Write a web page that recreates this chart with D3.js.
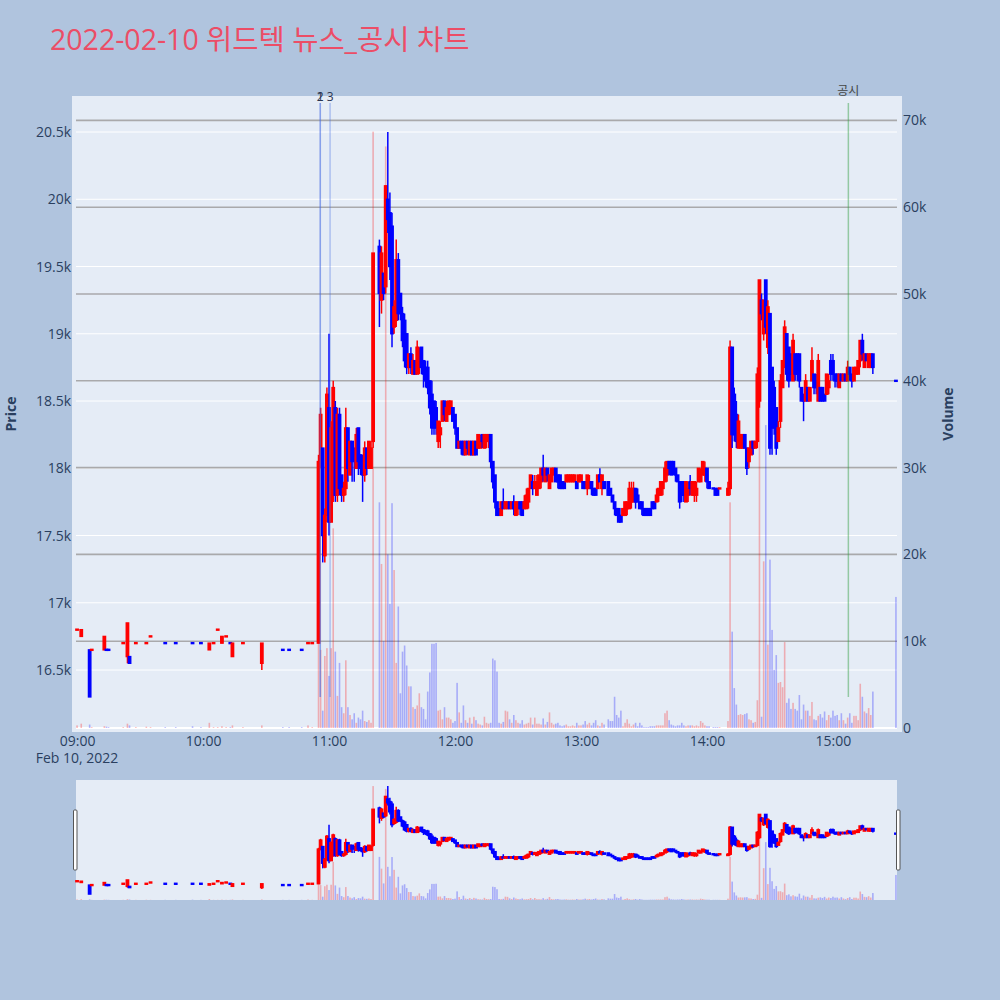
<!DOCTYPE html>
<html>
<head>
<meta charset="utf-8">
<script src="https://cdn.jsdelivr.net/npm/d3@7"></script>
<style>
  body { margin: 0; background: #b0c4de; }
  svg text { font-family: "Open Sans", "Noto Sans CJK KR", verdana, arial, sans-serif; }
</style>
</head>
<body>
<svg id="chart" width="1000" height="1000"></svg>
<script>
// 1분봉 데이터 (2022-02-10)
const times = [
  "09:00","09:02","09:06","09:07","09:13","09:14","09:15","09:22","09:24","09:25",
  "09:28","09:33","09:35","09:42","09:47","09:55","09:59","10:03","10:05","10:07",
  "10:09","10:11","10:13","10:14","10:19","10:28","10:38","10:41","10:47","10:50",
  "10:52","10:55","10:56","10:57","10:58","10:59","11:00","11:01","11:02","11:03",
  "11:04","11:05","11:06","11:07","11:08","11:09","11:10","11:11","11:12","11:13",
  "11:14","11:15","11:16","11:17","11:18","11:19","11:20","11:21","11:24","11:25",
  "11:26","11:27","11:28","11:29","11:30","11:31","11:32","11:33","11:34","11:35",
  "11:36","11:37","11:38","11:39","11:40","11:41","11:42","11:43","11:44","11:45",
  "11:46","11:47","11:48","11:49","11:50","11:51","11:52","11:53","11:54","11:55",
  "11:56","11:57","11:58","11:59","12:00","12:01","12:02","12:03","12:04","12:05",
  "12:06","12:07","12:08","12:09","12:10","12:11","12:12","12:13","12:14","12:15",
  "12:16","12:17","12:18","12:19","12:20","12:21","12:22","12:23","12:24","12:25",
  "12:26","12:27","12:28","12:29","12:30","12:31","12:32","12:33","12:34","12:35",
  "12:36","12:37","12:38","12:39","12:40","12:41","12:42","12:43","12:44","12:45",
  "12:46","12:47","12:48","12:49","12:50","12:51","12:52","12:53","12:54","12:55",
  "12:56","12:57","12:58","12:59","13:00","13:01","13:02","13:03","13:04","13:05",
  "13:06","13:07","13:08","13:09","13:10","13:11","13:13","13:14","13:15","13:16",
  "13:17","13:18","13:19","13:20","13:21","13:22","13:23","13:24","13:25","13:26",
  "13:27","13:28","13:29","13:30","13:31","13:32","13:33","13:34","13:35","13:36",
  "13:37","13:38","13:39","13:40","13:41","13:42","13:43","13:44","13:45","13:46",
  "13:47","13:48","13:49","13:50","13:51","13:52","13:53","13:54","13:55","13:56",
  "13:57","13:58","13:59","14:00","14:01","14:03","14:04","14:05","14:06","14:10",
  "14:11","14:12","14:13","14:14","14:15","14:16","14:17","14:18","14:19","14:20",
  "14:21","14:22","14:23","14:24","14:25","14:26","14:27","14:28","14:29","14:30",
  "14:31","14:32","14:33","14:34","14:35","14:36","14:37","14:38","14:39","14:40",
  "14:41","14:42","14:43","14:44","14:45","14:46","14:47","14:48","14:49","14:50",
  "14:51","14:52","14:53","14:54","14:55","14:56","14:57","14:58","14:59","15:00",
  "15:01","15:02","15:03","15:04","15:05","15:06","15:07","15:08","15:09","15:10",
  "15:11","15:12","15:13","15:14","15:15","15:16","15:17","15:18","15:19","15:30"
];
const opens = [
  16800,16750,16650,16650,16650,16650,16650,16700,16600,16600,
  16700,16700,16750,16700,16700,16700,16700,16650,16700,16800,
  16700,16750,16700,16600,16700,16550,16650,16650,16650,16700,
  16700,16700,18050,18150,17350,17650,18450,17600,17800,18450,
  17800,18400,17950,17800,17850,18300,17950,18200,18150,18000,
  18300,18100,18050,17950,18150,18000,18000,18200,19650,19250,
  19450,19350,20000,19900,19800,19050,19100,19550,19300,19150,
  19100,19000,18750,18850,18700,18800,18700,18750,18900,18800,
  18750,18750,18650,18550,18500,18450,18200,18250,18350,18500,
  18350,18400,18450,18450,18400,18300,18150,18200,18200,18100,
  18200,18100,18200,18100,18200,18150,18150,18250,18150,18200,
  18200,18250,18050,17950,17750,17700,17650,17750,17700,17700,
  17750,17700,17750,17650,17700,17750,17750,17700,17700,17750,
  17850,17900,17850,17800,17850,17900,18000,17900,18000,17850,
  17900,17950,18000,17950,17950,17900,17900,17900,17900,17900,
  17900,17900,17900,17900,17900,17900,17900,17850,17850,17900,
  17850,17850,17850,17950,17850,17900,17900,17850,17800,17750,
  17700,17700,17650,17650,17650,17700,17700,17750,17750,17850,
  17800,17750,17750,17700,17700,17700,17700,17750,17750,17750,
  17800,17800,17850,17900,17950,18050,18050,18050,18000,17950,
  17900,17900,17900,17750,17800,17900,17800,17800,17800,17900,
  17900,17950,17950,18000,17900,17850,17850,17850,17850,17800,
  17850,18900,18550,18400,18150,18150,18150,18250,18150,18050,
  18100,18200,18150,18200,18500,19250,19000,19400,18900,19150,
  18750,18600,18450,18200,18350,18600,18750,19000,18900,18850,
  18650,18850,18850,18850,18600,18550,18500,18600,18500,18650,
  18700,18650,18500,18600,18600,18550,18550,18600,18800,18800,
  18700,18700,18600,18700,18650,18700,18650,18750,18700,18650,
  18700,18700,18800,18950,18750,18850,18750,18750,18850,18650
];
const highs = [
  16800,16800,16650,16650,16750,16650,16650,16700,16850,16600,
  16700,16700,16750,16700,16700,16700,16700,16700,16700,16800,
  16750,16750,16700,16700,16700,16700,16650,16650,16650,16700,
  16700,18100,18450,18150,17700,18600,19000,18350,18650,18500,
  18450,18450,17950,17900,18450,18300,18200,18200,18150,18300,
  18300,18100,18100,18200,18150,18200,18200,19600,19700,19650,
  19450,20100,20500,20050,19900,19250,19700,19600,19300,19200,
  19150,19000,18850,18900,18850,18800,18950,18900,18900,18800,
  18800,18800,18650,18650,18500,18500,18350,18350,18500,18500,
  18500,18500,18500,18450,18400,18300,18200,18200,18200,18200,
  18200,18200,18200,18200,18200,18250,18250,18250,18250,18250,
  18250,18250,18050,17950,17750,17700,17750,17850,17750,17750,
  17750,17750,17800,17750,17750,17750,17750,17800,17850,17850,
  17950,17950,17950,17950,17950,18000,18100,18000,18000,17950,
  18000,18000,18000,17950,17950,17900,17900,17950,17950,17950,
  17950,17950,17900,17950,17950,17900,17900,17950,17950,17900,
  17850,17850,17950,18000,17950,17900,17900,17850,17800,17750,
  17700,17700,17650,17700,17750,17750,17900,17900,17900,17850,
  17850,17750,17750,17700,17700,17700,17700,17750,17750,17850,
  17850,17900,17900,18050,18050,18050,18050,18050,18000,17950,
  17900,17900,17900,17900,17900,17950,17900,17900,17900,18000,
  18000,18050,18050,18000,17900,17850,17850,17850,17850,17900,
  18950,18900,18600,18500,18400,18250,18250,18250,18150,18150,
  18200,18200,18200,18750,19400,19300,19250,19400,19250,19150,
  18750,18650,18450,18350,18700,18800,19100,19000,18900,18850,
  19000,18850,18850,18850,18600,18550,18700,18600,18600,18900,
  18700,18700,18850,18600,18600,18550,18700,18700,18850,18850,
  18700,18700,18700,18700,18700,18700,18800,18750,18700,18750,
  18750,18800,18950,19000,18850,18850,18850,18850,18850,18650
];
const lows = [
  16800,16750,16300,16650,16650,16650,16650,16700,16550,16550,
  16700,16700,16750,16700,16700,16700,16700,16650,16700,16800,
  16700,16750,16700,16600,16700,16500,16650,16650,16650,16700,
  16700,16700,18000,17300,17300,17600,17500,17600,17750,17750,
  17750,17800,17750,17750,17800,17900,17950,17900,17900,18000,
  17950,17950,17750,17900,17950,18000,18000,18150,19050,19150,
  19250,19300,19750,19400,18900,19000,19050,19100,19100,18900,
  18750,18700,18700,18700,18700,18700,18700,18700,18700,18600,
  18600,18550,18400,18250,18250,18250,18150,18150,18350,18350,
  18350,18400,18400,18350,18250,18150,18150,18100,18100,18100,
  18100,18100,18100,18100,18100,18150,18150,18150,18150,18150,
  18150,18000,17850,17700,17650,17650,17650,17700,17700,17700,
  17700,17700,17650,17650,17650,17650,17650,17700,17700,17700,
  17850,17800,17850,17800,17850,17850,17900,17900,17900,17850,
  17900,17950,17900,17850,17850,17850,17850,17900,17900,17900,
  17900,17900,17850,17900,17900,17850,17850,17800,17850,17800,
  17800,17800,17850,17900,17800,17850,17800,17800,17750,17650,
  17650,17600,17600,17650,17650,17650,17700,17700,17750,17700,
  17750,17700,17650,17650,17650,17650,17650,17700,17700,17750,
  17750,17800,17800,17900,17900,17950,17950,17950,17900,17900,
  17700,17750,17750,17750,17750,17800,17800,17750,17750,17900,
  17900,17950,17900,17850,17850,17850,17800,17800,17850,17800,
  17800,18150,18200,18150,18150,18150,18150,18150,17950,18000,
  18100,18100,18150,18150,18450,19100,18950,19000,18850,18100,
  18100,18250,18100,18200,18300,18600,18750,18650,18600,18650,
  18650,18650,18650,18600,18500,18350,18500,18500,18500,18650,
  18550,18550,18500,18500,18500,18500,18550,18550,18650,18650,
  18600,18600,18600,18650,18650,18650,18650,18650,18600,18650,
  18700,18700,18750,18800,18750,18800,18750,18750,18700,18650
];
const closes = [
  16800,16800,16300,16650,16750,16650,16650,16700,16850,16550,
  16700,16700,16750,16700,16700,16700,16700,16700,16700,16800,
  16750,16750,16700,16700,16700,16700,16650,16650,16650,16700,
  16700,18050,18400,17500,17650,18550,17600,18300,18600,17800,
  18400,17850,17800,17850,18300,18000,18200,18050,18100,18250,
  18050,18000,17950,18150,18000,18200,18150,19600,19300,19600,
  19300,20100,19850,19500,19000,19200,19550,19150,19150,18950,
  18800,18750,18850,18750,18800,18700,18900,18850,18750,18700,
  18650,18600,18450,18300,18300,18300,18350,18300,18500,18400,
  18450,18500,18500,18350,18300,18150,18200,18150,18100,18200,
  18150,18200,18100,18200,18100,18250,18200,18200,18250,18250,
  18250,18050,17900,17750,17650,17650,17750,17700,17750,17750,
  17700,17750,17700,17750,17750,17700,17650,17750,17800,17850,
  17950,17850,17900,17900,17950,18000,17950,18000,17950,17950,
  18000,18000,17900,17900,17850,17850,17850,17950,17950,17950,
  17950,17950,17850,17950,17950,17850,17850,17950,17900,17850,
  17800,17800,17950,17900,17950,17850,17800,17800,17750,17700,
  17650,17600,17600,17700,17750,17750,17850,17850,17850,17750,
  17750,17700,17700,17650,17650,17650,17650,17700,17700,17800,
  17850,17900,17900,18000,18050,18000,17950,18000,17950,17900,
  17750,17800,17800,17900,17850,17850,17900,17900,17850,18000,
  17950,18050,18000,17900,17850,17850,17800,17800,17850,17850,
  18900,18250,18250,18200,18350,18250,18250,18150,18000,18150,
  18200,18150,18200,18700,19400,19150,19250,19050,19200,18150,
  18300,18300,18150,18300,18650,18800,19050,18700,18650,18700,
  18950,18700,18700,18650,18500,18500,18650,18500,18600,18800,
  18600,18600,18800,18500,18500,18500,18700,18650,18700,18700,
  18650,18650,18700,18650,18700,18650,18750,18700,18650,18750,
  18750,18800,18950,18850,18850,18800,18850,18850,18750,18650
];
const volumes = [
  300,500,400,100,200,150,100,100,500,300,
  100,150,100,100,100,200,100,600,100,100,
  200,100,100,300,100,300,100,100,100,300,
  100,16000,9000,2000,8300,9200,6000,9200,23000,8800,
  3700,7500,2400,1700,7800,2400,1500,1000,1700,600,
  1200,1000,2000,800,700,900,600,68700,26000,18900,
  10000,67000,20000,14300,25900,18200,7500,14000,4000,8800,
  9500,7200,4800,4800,2400,2200,2600,4000,2400,2200,
  1000,4200,6400,9700,9700,9800,2000,2100,1000,2400,
  1200,1200,1000,600,800,5200,1800,600,2600,900,
  600,1200,500,1300,900,500,400,300,1300,600,
  500,600,8000,7800,6500,600,500,700,2000,1900,
  1000,600,1500,900,600,500,900,400,500,600,
  1200,400,1200,500,500,400,1100,400,700,1800,
  600,400,500,600,300,200,300,400,200,200,
  300,200,600,300,300,400,800,400,600,300,
  600,900,300,200,600,400,1000,800,800,3600,
  1500,1200,2000,200,600,1000,500,200,400,600,
  200,600,300,100,100,100,200,200,200,300,
  300,300,300,1700,2000,900,400,300,200,300,
  300,600,300,200,300,300,300,200,300,200,
  800,600,300,200,200,100,100,100,100,800,
  26000,11100,4600,2700,1500,1600,1500,1600,1700,1000,
  900,600,700,3200,51600,1300,19200,34900,9600,19400,
  11300,6700,8400,5200,5300,4700,9900,2900,3400,2200,
  2900,2200,2000,3800,1000,2700,2000,2000,1400,3000,
  1000,900,1400,1600,1200,1900,900,1500,1200,2000,
  1400,1500,900,1700,900,500,1200,1700,600,1400,
  1400,900,5100,3600,1900,1700,2300,1500,4200,15100
];

// 뉴스 / 공시 표시
const newsTimes = ["10:55:50", "10:55:50", "11:00:30"];
const newsLabels = ["1", "2", "3"];
const disclosureTimes = ["15:07:20"];
const disclosureLabels = ["공시"];
const markerRange = [16300, 20715];

// 축 눈금
const priceTicks = [16500, 17000, 17500, 18000, 18500, 19000, 19500, 20000, 20500];
const volumeTicks = [0, 10000, 20000, 30000, 40000, 50000, 60000, 70000];
const timeTicks = ["09:00", "10:00", "11:00", "12:00", "13:00", "14:00", "15:00"];
const priceRange = [16069, 20738];
const volumeRange = [0, 72350];

const day = "2022-02-10";
const parseTime = d3.timeParse("%Y-%m-%d %H:%M:%S");
function toDate(t) { return parseTime(day + " " + (t.length === 5 ? t + ":00" : t)); }

const UP = "#ff0000", DOWN = "#0000ff";
const fontColor = "#2a3f5f";

var candles = times.map(function(t, i) {
  return {date: toDate(t), o: opens[i], h: highs[i], l: lows[i], c: closes[i], v: volumes[i]};
});
// 보합이면 직전 종가와 비교해서 색 결정
var prevC = null, prevUp = true;
candles.forEach(function(d) {
  var up;
  if (d.c > d.o) up = true;
  else if (d.c < d.o) up = false;
  else if (prevC === null) up = true;
  else up = d.c > prevC ? true : (d.c < prevC ? false : prevUp);
  d.up = up; prevUp = up; prevC = d.c;
});

var svg = d3.select("#chart");

var x = d3.scaleTime()
          .domain([toDate("08:59:30"), toDate("15:30:30")])
          .range([76, 897]);
var y = d3.scaleLinear().domain(priceRange).range([728, 100]);
var yVol = d3.scaleLinear().domain(volumeRange).range([728, 100]);

// 타이틀
svg.append("text")
   .attr("x", 50).attr("y", 50)
   .attr("font-size", 28.5)
   .attr("fill", "#ec4d66")
   .text("2022-02-10 위드텍 뉴스_공시 차트");

// 플롯 배경
svg.append("rect")
   .attr("x", 72).attr("y", 96)
   .attr("width", 830).attr("height", 636)
   .attr("fill", "#e5ecf6");

// 그리드
svg.append("g").selectAll("line")
   .data(priceTicks).enter().append("line")
   .attr("x1", 76).attr("x2", 897)
   .attr("y1", function(d) { return y(d); })
   .attr("y2", function(d) { return y(d); })
   .attr("stroke", "#ffffff").attr("stroke-width", 1);

svg.append("g").selectAll("line")
   .data(volumeTicks).enter().append("line")
   .attr("x1", 76).attr("x2", 897)
   .attr("y1", function(d) { return yVol(d); })
   .attr("y2", function(d) { return yVol(d); })
   .attr("stroke", function(d) { return d === 0 ? "#ffffff" : "#a9a9ab"; })
   .attr("stroke-width", function(d) { return d === 0 ? 2 : 1.6; });

function drawSeries(g, yP, yV) {
  // 거래량
  g.append("g").selectAll("rect")
   .data(candles).enter().append("rect")
   .attr("x", function(d) { return x(d.date) - 0.8; })
   .attr("width", 1.6)
   .attr("y", function(d) { return yV(d.v); })
   .attr("height", function(d) { return yV(0) - yV(d.v); })
   .attr("fill", function(d) { return d.up ? UP : DOWN; })
   .attr("fill-opacity", 0.27);

  var c = g.append("g").selectAll("g")
   .data(candles).enter().append("g")
   .attr("stroke", function(d) { return d.up ? UP : DOWN; })
   .attr("fill", function(d) { return d.up ? UP : DOWN; });

  c.append("line")
   .attr("x1", function(d) { return x(d.date); })
   .attr("x2", function(d) { return x(d.date); })
   .attr("y1", function(d) { return yP(d.h); })
   .attr("y2", function(d) { return yP(d.l); })
   .attr("stroke-width", 1.5);

  // 보합 캔들도 보이도록 최소 높이
  c.append("rect")
   .attr("x", function(d) { return x(d.date) - 1.2; })
   .attr("width", 2.4)
   .attr("y", function(d) { return yP(Math.max(d.o, d.c)) - (d.o === d.c ? 0.5 : 0); })
   .attr("height", function(d) { return Math.max(1, Math.abs(yP(d.o) - yP(d.c))); })
   .attr("stroke-width", 1.4);
}

drawSeries(svg.append("g"), y, yVol);

// 뉴스 라인
var markerTop = y(markerRange[1]), markerBottom = y(markerRange[0]);
svg.append("g").selectAll("line")
   .data(newsTimes).enter().append("line")
   .attr("x1", function(d) { return x(toDate(d)); })
   .attr("x2", function(d) { return x(toDate(d)); })
   .attr("y1", markerTop).attr("y2", markerBottom)
   .attr("stroke", "#4169e1").attr("stroke-opacity", 0.35).attr("stroke-width", 1.5);
svg.append("g").selectAll("text")
   .data(newsTimes).enter().append("text")
   .attr("x", function(d) { return x(toDate(d)); })
   .attr("y", 100.5)
   .attr("text-anchor", "middle")
   .attr("font-size", 12)
   .attr("fill", "#2a3450")
   .text(function(d, i) { return newsLabels[i]; });

// 공시 라인
svg.append("g").selectAll("line")
   .data(disclosureTimes).enter().append("line")
   .attr("x1", function(d) { return x(toDate(d)); })
   .attr("x2", function(d) { return x(toDate(d)); })
   .attr("y1", markerTop).attr("y2", markerBottom)
   .attr("stroke", "#2e9e3e").attr("stroke-opacity", 0.45).attr("stroke-width", 1.5);
svg.append("g").selectAll("text")
   .data(disclosureTimes).enter().append("text")
   .attr("x", function(d) { return x(toDate(d)); })
   .attr("y", 95)
   .attr("text-anchor", "middle")
   .attr("font-size", 12)
   .attr("fill", "#444444")
   .text(function(d, i) { return disclosureLabels[i]; });

// 축
var yAxisL = svg.append("g")
   .attr("transform", "translate(76,0)")
   .call(d3.axisLeft(y).tickValues(priceTicks).tickFormat(d3.format("~s")).tickSize(0).tickPadding(5));
var yAxisR = svg.append("g")
   .attr("transform", "translate(897,0)")
   .call(d3.axisRight(yVol).tickValues(volumeTicks).tickFormat(d3.format("~s")).tickSize(0).tickPadding(6));
var xAxis = svg.append("g")
   .attr("transform", "translate(0,728)")
   .call(d3.axisBottom(x).tickValues(timeTicks.map(toDate)).tickFormat(d3.timeFormat("%H:%M")).tickSize(0).tickPadding(8));

[yAxisL, yAxisR, xAxis].forEach(function(a) {
  a.select(".domain").remove();
  a.selectAll("text").attr("fill", fontColor).attr("font-size", 14)
   .style("font-family", "\"Open Sans\", verdana, arial, sans-serif");
});

svg.append("text")
   .attr("x", x(toDate(timeTicks[0]))).attr("y", 763)
   .attr("text-anchor", "middle")
   .attr("font-size", 14).attr("fill", fontColor)
   .text("Feb 10, 2022");

svg.append("text")
   .attr("transform", "translate(16,414) rotate(-90)")
   .attr("text-anchor", "middle")
   .attr("font-size", 14).attr("font-weight", "bold").attr("fill", fontColor)
   .text("Price");
svg.append("text")
   .attr("transform", "translate(953,414) rotate(-90)")
   .attr("text-anchor", "middle")
   .attr("font-size", 14).attr("font-weight", "bold").attr("fill", fontColor)
   .text("Volume");

// 레인지 슬라이더
var slider = svg.append("g");
slider.append("rect")
   .attr("x", 76).attr("y", 780)
   .attr("width", 821).attr("height", 120)
   .attr("fill", "#e5ecf6");
var yMini = d3.scaleLinear().domain(priceRange).range([900, 780]);
var yVolMini = d3.scaleLinear().domain(volumeRange).range([900, 780]);
drawSeries(slider.append("g"), yMini, yVolMini);

[73.5, 896.5].forEach(function(hx) {
  slider.append("rect")
     .attr("x", hx).attr("y", 810)
     .attr("width", 3.5).attr("height", 60)
     .attr("rx", 1)
     .attr("fill", "#ffffff").attr("stroke", "#555555").attr("stroke-width", 1);
});
</script>
</body>
</html>
